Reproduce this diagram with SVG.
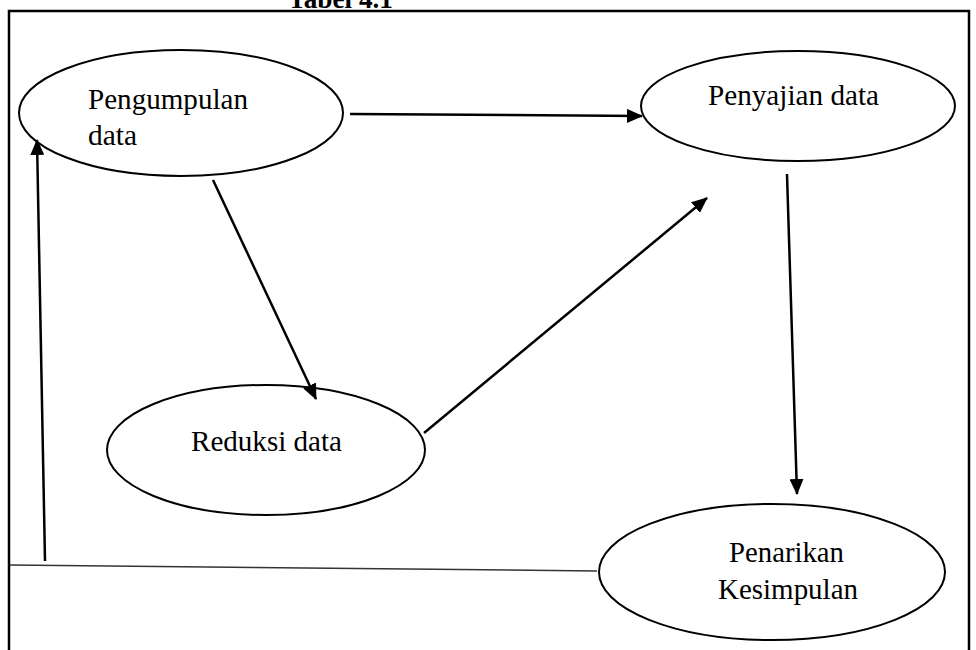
<svg xmlns="http://www.w3.org/2000/svg" width="976" height="650" viewBox="0 0 976 650">
<style>
.node ellipse{fill:#fff;stroke:#000;stroke-width:2}
.conn line{stroke:#000;stroke-width:2.5}
</style>
<defs>
<marker id="ah2" markerWidth="16" markerHeight="14" refX="15" refY="7" orient="auto" markerUnits="userSpaceOnUse" viewBox="0 0 16 14">
<path d="M0,0 L16,7 L0,14 z" fill="#000"/>
</marker>
</defs>
<rect width="976" height="650" fill="#fff"/>
<text x="288" y="8" font-family="'Liberation Serif', serif" font-size="27" font-weight="bold" textLength="105" lengthAdjust="spacingAndGlyphs">Tabel 4.1</text>
<g id="frame" fill="none" stroke="#000" stroke-width="2.5">
<path d="M9,650 L9,11 L969,11 L969,650"/>
</g>
<g font-family="'Liberation Serif', serif" font-size="29" fill="#000">
<g id="pengumpulan" class="node">
<ellipse cx="181" cy="113" rx="162" ry="63"/>
<text x="88" y="109" textLength="160" lengthAdjust="spacingAndGlyphs">Pengumpulan</text>
<text x="88" y="145" textLength="49" lengthAdjust="spacingAndGlyphs">data</text>
</g>
<g id="penyajian" class="node">
<ellipse cx="798" cy="106" rx="157" ry="55"/>
<text x="708" y="105" textLength="171" lengthAdjust="spacingAndGlyphs">Penyajian data</text>
</g>
<g id="reduksi" class="node">
<ellipse cx="266" cy="450" rx="159" ry="65"/>
<text x="191" y="451" textLength="151" lengthAdjust="spacingAndGlyphs">Reduksi data</text>
</g>
<g id="penarikan" class="node">
<ellipse cx="772" cy="572" rx="173" ry="68"/>
<text x="729" y="562" textLength="115" lengthAdjust="spacingAndGlyphs">Penarikan</text>
<text x="718" y="599" textLength="140" lengthAdjust="spacingAndGlyphs">Kesimpulan</text>
</g>
</g>
<g id="connectors">
<g class="conn">
<line x1="350" y1="114" x2="642" y2="116" marker-end="url(#ah2)"/>
<line x1="213" y1="180" x2="316" y2="399" marker-end="url(#ah2)"/>
<line x1="424" y1="433" x2="707" y2="198" marker-end="url(#ah2)"/>
<line x1="787" y1="174" x2="797" y2="494" marker-end="url(#ah2)"/>
<line x1="45" y1="561" x2="37" y2="140" marker-end="url(#ah2)"/>
</g>
<line x1="597" y1="571" x2="10" y2="565" stroke="#333" stroke-width="1.5"/>
</g>
</svg>
